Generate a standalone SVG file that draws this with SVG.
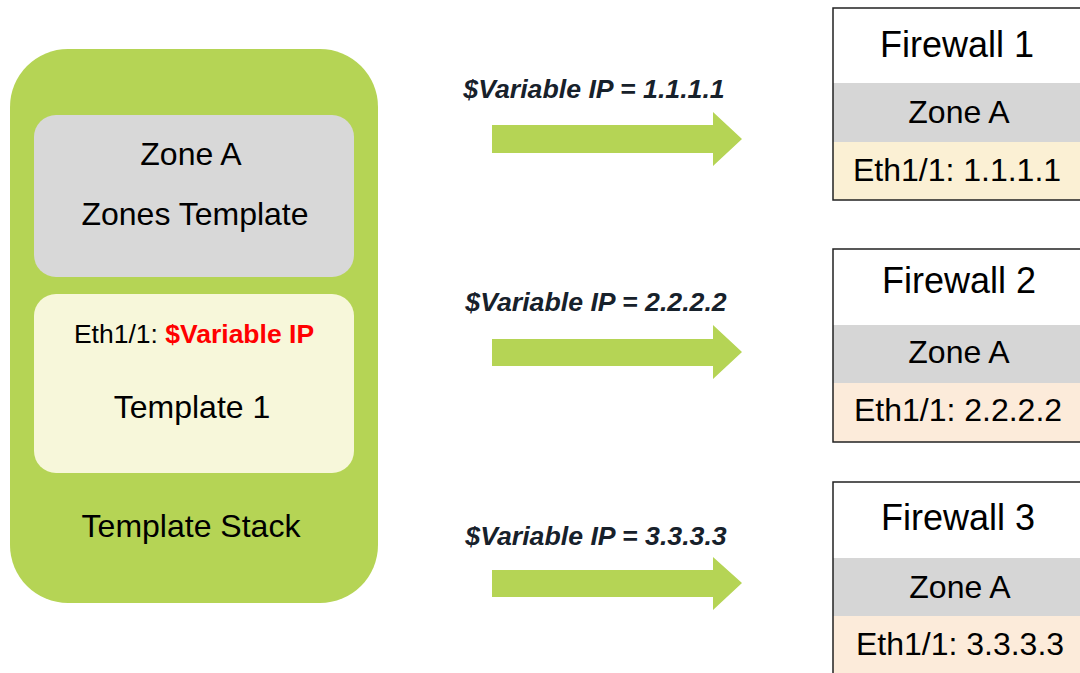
<svg xmlns="http://www.w3.org/2000/svg" width="1080" height="673" viewBox="0 0 1080 673">
<style>
text{font-family:"Liberation Sans",Arial,Helvetica,sans-serif;fill:#000;text-anchor:middle}
.big{font-size:32px}
.title{font-size:36px}
.eth{font-size:26.5px}
.red{fill:#FF0000;font-weight:bold}
.lbl{font-size:26.7px;font-weight:bold;font-style:italic;fill:#17212B}
.arrow{fill:#B5D455}
.hdr{fill:#FFFFFF}
.zone{fill:#D6D6D6}
.frame{fill:none;stroke:#222;stroke-width:1.5}
</style>
<rect width="1080" height="673" fill="#FFFFFF"/>
<g id="template-stack">
<rect x="10" y="49" width="368" height="554" rx="58" ry="58" fill="#B5D455"/>
<text class="big" x="191" y="537">Template Stack</text>
</g>
<g id="zones-template">
<rect x="34" y="115" width="320" height="162" rx="22" ry="22" fill="#D8D8D8"/>
<text class="big" x="191" y="165">Zone A</text>
<text class="big" x="195" y="225">Zones Template</text>
</g>
<g id="template-1">
<rect x="34" y="294" width="320" height="179" rx="22" ry="22" fill="#F7F7DA"/>
<text class="eth" x="194" y="343">Eth1/1: <tspan class="red">$Variable IP</tspan></text>
<text class="big" x="192" y="418">Template 1</text>
</g>
<g id="connectors">
<polygon class="arrow" points="492,125 713,125 713,112 742,139 713,166 713,153 492,153"/>
<text class="lbl" x="594" y="98">$Variable IP = 1.1.1.1</text>
<polygon class="arrow" points="492,339 713,339 713,325 742,352 713,379 713,366 492,366"/>
<text class="lbl" x="596" y="311">$Variable IP = 2.2.2.2</text>
<polygon class="arrow" points="492,570 713,570 713,557 742,583 713,610 713,597 492,597"/>
<text class="lbl" x="596" y="545">$Variable IP = 3.3.3.3</text>
</g>
<g id="firewall-1">
<rect class="hdr" x="833" y="8" width="260" height="75"/>
<rect class="zone" x="833" y="83" width="260" height="59"/>
<rect x="833" y="142" width="260" height="58" fill="#FBF0D4"/>
<rect class="frame" x="833" y="8" width="260" height="192"/>
<text class="title" x="957" y="57">Firewall 1</text>
<text class="big" x="959" y="123">Zone A</text>
<text class="big" x="957" y="181">Eth1/1: 1.1.1.1</text>
</g>
<g id="firewall-2">
<rect class="hdr" x="833" y="249" width="260" height="76"/>
<rect class="zone" x="833" y="325" width="260" height="58"/>
<rect x="833" y="383" width="260" height="59" fill="#FCEBDA"/>
<rect class="frame" x="833" y="249" width="260" height="193"/>
<text class="title" x="959" y="293">Firewall 2</text>
<text class="big" x="959" y="363">Zone A</text>
<text class="big" x="958" y="421">Eth1/1: 2.2.2.2</text>
</g>
<g id="firewall-3">
<rect class="hdr" x="833" y="482" width="260" height="76"/>
<rect class="zone" x="833" y="558" width="260" height="58"/>
<rect x="833" y="616" width="260" height="70" fill="#FCEBDA"/>
<rect class="frame" x="833" y="482" width="260" height="204"/>
<text class="title" x="958" y="530">Firewall 3</text>
<text class="big" x="960" y="598">Zone A</text>
<text class="big" x="960" y="655">Eth1/1: 3.3.3.3</text>
</g>
</svg>
